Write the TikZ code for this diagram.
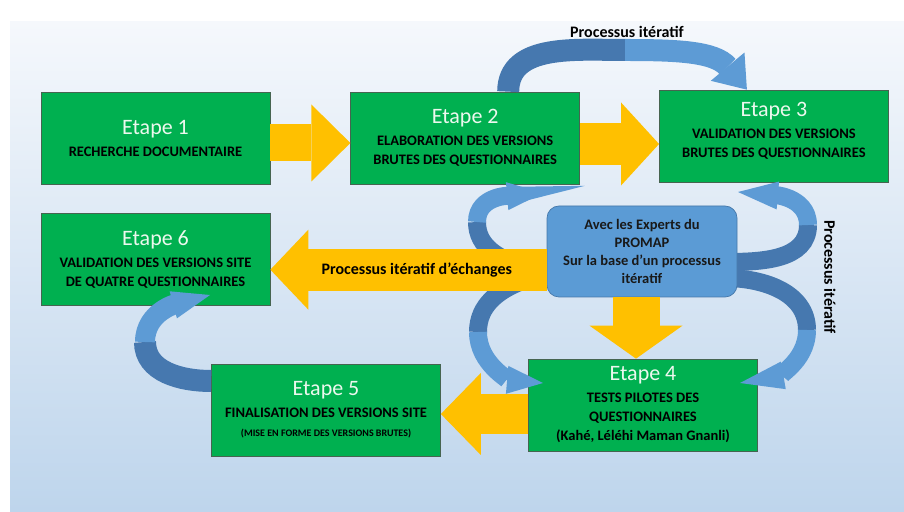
\documentclass[tikz,border=0pt]{standalone}
\usepackage{fontspec}
\setmainfont{Carlito}
\usepackage{xcolor}
\usetikzlibrary{arrows.meta, positioning}

\definecolor{stepgreen}{RGB}{0,176,80}
\definecolor{stepedge}{RGB}{70,100,80}
\definecolor{titlewhite}{RGB}{236,248,238}
\definecolor{arrowyellow}{RGB}{255,192,0}
\definecolor{expertblue}{RGB}{91,155,213}
\definecolor{expertedge}{RGB}{70,120,170}
\definecolor{ribbonlight}{RGB}{93,155,213}
\definecolor{ribbondark}{RGB}{70,120,175}
\definecolor{bgtop}{RGB}{245,248,252}
\definecolor{bgbottom}{RGB}{190,213,236}

\newcommand{\etape}[1]{{\fontsize{22}{22}\selectfont\mdseries\color{titlewhite}Etape #1}\\[3pt]}

\begin{document}
\begin{tikzpicture}[
  x=1pt, y=1pt,
  every node/.style={font=\bfseries\fontsize{14.5}{19}\selectfont},
  stepbox/.style={draw=stepedge, line width=0.7pt, fill=stepgreen, minimum width=229pt, minimum height=92pt, align=center, inner sep=2pt},
  expertbox/.style={draw=expertedge, line width=0.7pt, fill=expertblue, rounded corners=12pt, minimum width=190pt, minimum height=91pt, align=center, text=black!90, font=\bfseries\fontsize{14.5}{18}\selectfont},
  yarrow/.style n args={3}{draw=arrowyellow, line width=#1, -{Triangle[width=#2, length=#3, line width=0pt]}},
  ribbon/.style={draw=ribbonlight, line width=#1},
  ribbonback/.style={draw=ribbondark, line width=#1},
  ribtip/.style 2 args={-{Triangle[width=#1, length=#2, line width=0pt]}},
  iterlabel/.style={font=\bfseries\fontsize{16}{18}\selectfont}
]

% Background
\fill[white] (0,0) rectangle (904,511);
\shade[top color=bgtop, bottom color=bgbottom] (10,0) rectangle (904,489);
\useasboundingbox (0,0) rectangle (904,511);

% Steps
\node[stepbox] (e1) at (155.5,373) {\etape{1}RECHERCHE DOCUMENTAIRE};
\node[stepbox, right=80pt of e1] (e2) {\etape{2}ELABORATION DES VERSIONS\\BRUTES DES QUESTIONNAIRES};
\node[stepbox, right=79pt of e2, yshift=2pt] (e3) {\etape{3}VALIDATION DES VERSIONS\\BRUTES DES QUESTIONNAIRES\\[-6pt]\mbox{}};
\node[stepbox, below=29pt of e1] (e6) {\etape{6}VALIDATION DES VERSIONS SITE\\DE QUATRE QUESTIONNAIRES};
\node[stepbox] (e5) at (326,101) {\etape{5}FINALISATION DES VERSIONS SITE\\{\fontsize{10}{14}\selectfont (MISE EN FORME DES VERSIONS BRUTES)}};
\node[stepbox] (e4) at (643,106) {\etape{4}TESTS PILOTES DES\\QUESTIONNAIRES\\(Kahé, Léléhi Maman Gnanli)};

% Iterative ribbons
\coordinate (toppeak) at (625,461);
\coordinate (lefttop) at (477,289);
\coordinate (leftbot) at (478,179);
\coordinate (righttop) at (808,286);
\coordinate (rightbot) at (807,181);
\coordinate (backloop) at (145,169);

\draw[ribbonback=22pt] ([xshift=43pt]e2.north) to[out=90,in=180] (toppeak);
\draw[ribbon=22pt, ribtip={44pt}{30pt}] (toppeak) to[out=0,in=130] ([xshift=-27pt]e3.north);

\draw[ribbonback=18pt] (525,243) to[out=160,in=-90] (lefttop);
\draw[ribbon=18pt, ribtip={28pt}{36pt}] (lefttop) to[out=90,in=185] (543,318);
\draw[ribbonback=18pt] (525,231) to[out=200,in=90] (leftbot);
\draw[ribbon=18pt, ribtip={28pt}{36pt}] (leftbot) to[out=-90,in=175] (543,128);

\draw[ribbonback=18pt] (725,249) to[out=0,in=-90] (righttop);
\draw[ribbon=18pt, ribtip={28pt}{40pt}] (righttop) to[out=90,in=-5] (738,319);
\draw[ribbonback=18pt] (725,233) to[out=0,in=90] (rightbot);
\draw[ribbon=18pt, ribtip={28pt}{44pt}] (rightbot) to[out=-90,in=10] (740,128);

\draw[ribbonback=22pt] ([yshift=29pt]e5.west) to[out=180,in=-90] (backloop);
\draw[ribbon=20pt, ribtip={28pt}{38pt}] (backloop) to[out=90,in=195] (210,216);

% Block arrows
\coordinate (a12s) at ([yshift=-5pt]e1.east);
\coordinate (a23s) at ([yshift=-6pt]e2.east);
\coordinate (xtip) at ([yshift=-10pt]e6.east);
\coordinate (a45s) at ([yshift=-9pt]e4.west);

\draw[yarrow={37pt}{77pt}{39pt}] (a12s) -- (a12s -| e2.west);
\draw[yarrow={42pt}{83pt}{38pt}] (a23s) -- (a23s -| e3.west);
\draw[yarrow={40pt}{82pt}{40pt}] (a45s) -- (a45s -| e5.east);

% Experts
\node[expertbox] (expert) at (642,259.5) {Avec les Experts du\\PROMAP\\Sur la base d’un processus\\itératif};
\coordinate (dstart) at ([xshift=-6pt]expert.south);
\draw[yarrow={47pt}{93pt}{33pt}] (dstart) -- (dstart |- e4.north);
\draw[yarrow={42pt}{80pt}{38pt}] (xtip -| expert.west) -- node[pos=0.47, iterlabel] (echlabel) {Processus itératif d’échanges} (xtip);

% Labels
\node[iterlabel] (toplabel) at (627,479) {Processus itératif};
\node[iterlabel, rotate=-90] (sidelabel) at (830,234) {Processus itératif};
\end{tikzpicture}
\end{document}
